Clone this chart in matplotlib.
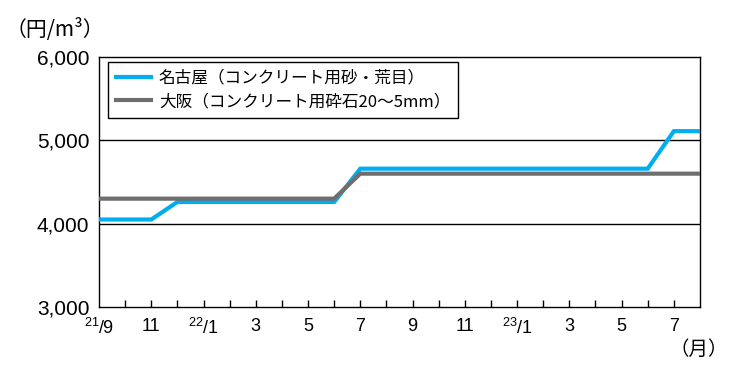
import matplotlib
matplotlib.use("Agg")
import matplotlib.pyplot as plt

plt.rcParams["mathtext.fontset"] = "custom"
plt.rcParams["mathtext.rm"] = "Liberation Sans"
plt.rcParams["mathtext.it"] = "Liberation Sans"
plt.rcParams["mathtext.bf"] = "Liberation Sans:bold"

# months from 2021/9 (index 0) to 2023/8 (index 23)
months = list(range(24))
nagoya = [4050, 4050, 4050, 4260, 4260, 4260, 4260, 4260, 4260, 4260,
          4660, 4660, 4660, 4660, 4660, 4660, 4660, 4660, 4660, 4660,
          4660, 4660, 5110, 5110]
osaka = [4300, 4300, 4300, 4300, 4300, 4300, 4300, 4300, 4300, 4300,
         4600, 4600, 4600, 4600, 4600, 4600, 4600, 4600, 4600, 4600,
         4600, 4600, 4600, 4600]

tick_pos = list(range(1, 23))
tick_text = {2: "11", 4: r"$^{22}$/1", 6: "3", 8: "5", 10: "7", 12: "9",
             14: "11", 16: r"$^{23}$/1", 18: "3", 20: "5", 22: "7"}
y_ticks = [3000, 4000, 5000, 6000]
y_labels = ["3,000", "4,000", "5,000", "6,000"]

label_nagoya = "名古屋（コンクリート用砂・荒目）"
label_osaka = "大阪（コンクリート用砕石20〜5mm）"

LAT = ["Liberation Sans", "DejaVu Sans"]
JP = ["Noto Sans CJK JP", "DejaVu Sans"]


def main():
    fig = plt.figure(figsize=(7.29, 3.71), dpi=100)
    ax = fig.add_axes([99 / 729, 64 / 371, 601 / 729, 250 / 371])

    ax.plot(months, nagoya, color="#00AEEF", lw=3, label=label_nagoya,
            solid_joinstyle="miter", zorder=3)
    ax.plot(months, osaka, color="#6E6E6E", lw=3, label=label_osaka,
            solid_joinstyle="miter", zorder=4)

    for v in [4000, 5000]:
        ax.axhline(v, color="black", lw=1, zorder=1)

    ax.set_xlim(0, 23)
    ax.set_ylim(3000, 6000)
    for s in ax.spines.values():
        s.set_linewidth(1)
        s.set_color("black")

    ax.set_xticks(tick_pos)
    ax.set_xticklabels([tick_text.get(p, "") for p in tick_pos])
    ax.tick_params(axis="x", direction="in", length=5, width=1, pad=8,
                   labelsize=13)
    for t in ax.get_xticklabels():
        t.set_family(LAT)
    ax.set_yticks(y_ticks)
    ax.set_yticklabels(y_labels)
    ax.tick_params(axis="y", length=0, pad=7, labelsize=15)
    for t in ax.get_yticklabels():
        t.set_family(LAT)

    # first label sits on the left spine
    ax.text(0, -0.045, r"$^{21}$/9", transform=ax.transAxes, ha="center",
            va="top", fontsize=13, family=LAT)

    leg = ax.legend(loc="upper left", bbox_to_anchor=(0.015, 0.98),
                    borderaxespad=0, fancybox=False, framealpha=1,
                    edgecolor="black", handlelength=2.1, handletextpad=0.5,
                    borderpad=0.45, labelspacing=0.4,
                    prop={"family": JP, "size": 12})
    leg.get_frame().set_linewidth(1)
    leg.set_zorder(5)

    fig.text(55 / 729, 1 - 30 / 371, "（円/m³）", ha="center", va="center",
             fontsize=15, family=JP)
    fig.text(699 / 729, 1 - 349 / 371, "（月）", ha="center", va="center",
             fontsize=14, family=JP)

    fig.savefig("out.png", dpi=100)


if __name__ == "__main__":
    main()
